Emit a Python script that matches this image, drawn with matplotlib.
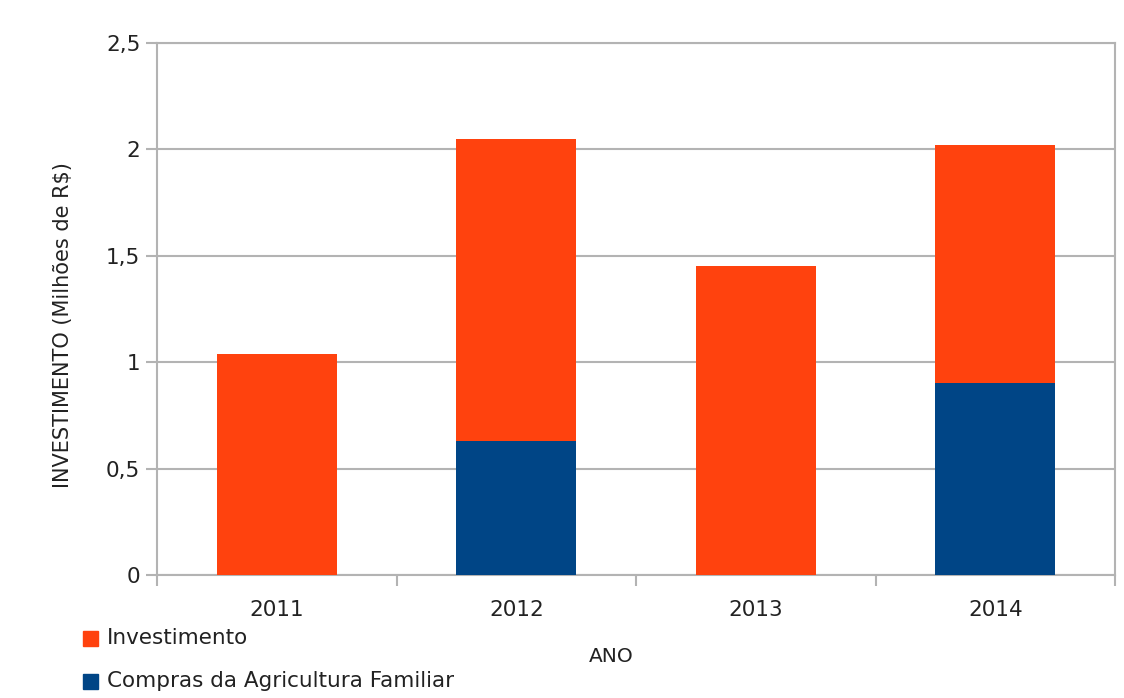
import matplotlib
matplotlib.use("Agg")
import matplotlib.pyplot as plt
from matplotlib.patches import Rectangle
import numpy as np

plt.rcParams['font.family'] = ['DejaVu Sans']

anos = ["2011", "2012", "2013", "2014"]
compras_af = [0.0, 0.63, 0.0, 0.90]
investimento = [1.04, 1.42, 1.45, 1.12]
y_ticks = [0, 0.5, 1, 1.5, 2, 2.5]
y_tick_labels = ["0", "0,5", "1", "1,5", "2", "2,5"]

cor_invest = "#FF420E"
cor_compras = "#004586"
cor_grade = "#b3b3b3"
cor_texto = "#222222"

fig = plt.figure(figsize=(11.24, 6.98), dpi=100)
ax = fig.add_axes([0.1397, 0.1762, 0.8523, 0.7622])

x = np.arange(len(anos))
ax.bar(x, compras_af, width=0.5, color=cor_compras, zorder=3)
ax.bar(x, investimento, width=0.5, bottom=compras_af, color=cor_invest, zorder=3)

ax.set_xlim(-0.5, len(anos) - 0.5)
ax.set_ylim(0, 2.5)
ax.set_yticks(y_ticks)
ax.set_yticklabels(y_tick_labels, fontsize=15.5, color=cor_texto)
ax.set_xticks(x)
ax.set_xticklabels(anos, fontsize=15.5, color=cor_texto)
ax.tick_params(axis='x', length=0, pad=18)
ax.set_xticks(np.arange(-0.5, len(anos)), minor=True)
ax.tick_params(axis='x', which='minor', length=8, width=1.5, color=cor_grade, direction='out')
ax.tick_params(axis='y', length=8, width=1.5, color=cor_grade, direction='out', pad=4)

ax.grid(axis='y', color=cor_grade, linewidth=1.5, zorder=0)
for s in ax.spines.values():
    s.set_color(cor_grade)
    s.set_linewidth(1.5)

fig.text(0.056, 0.534, "INVESTIMENTO (Milhões de R$)", rotation=90,
         ha='center', va='center', fontsize=15, color=cor_texto)
fig.text(0.544, 0.059, "ANO", ha='center', va='center', fontsize=14.5, color=cor_texto)

# legend entries at the lower left
for i, (rotulo, cor) in enumerate([("Investimento", cor_invest),
                                   ("Compras da Agricultura Familiar", cor_compras)]):
    yc = 1 - (638 + 43 * i) / 698
    fig.patches.append(Rectangle((83 / 1124, yc - 7.5 / 698), 15 / 1124, 15 / 698,
                                 transform=fig.transFigure, color=cor))
    fig.text(107 / 1124, yc, rotulo, ha='left', va='center', fontsize=15.5, color=cor_texto)

fig.savefig("out.png", dpi=100, facecolor="white")
